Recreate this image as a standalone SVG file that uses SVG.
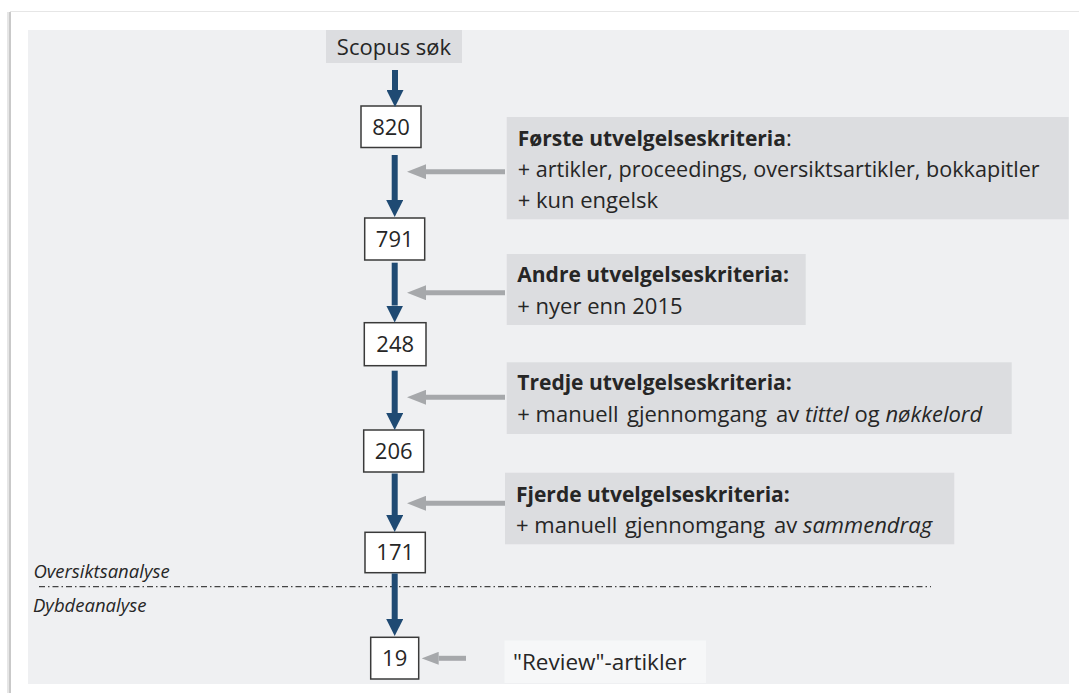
<svg xmlns="http://www.w3.org/2000/svg" width="1079" height="693" viewBox="0 0 1079 693">
  <style>
    .t { font-family: "Open Sans", "Noto Sans", sans-serif; font-size: 22px; fill: #262626; }
    .b { font-weight: 700; font-size: 21px; }
    .i { font-style: italic; }
    .lbl { font-family: "Open Sans", "Noto Sans", sans-serif; font-size: 18.5px; font-style: italic; fill: #262626; }
    .num { fill: #ffffff; stroke: #3a3a3a; stroke-width: 1.5; }
    .crit { fill: #dcdde0; }
    .blue { stroke: #1f4a73; stroke-width: 6; fill: none; marker-end: url(#bh); }
    .gray { stroke: #a6a8ab; stroke-width: 5; fill: none; marker-end: url(#gh); }
  </style>
  <defs>
    <marker id="bh" markerUnits="userSpaceOnUse" markerWidth="17" markerHeight="17" refX="0" refY="8.5" orient="auto" viewBox="0 0 17 17">
      <path d="M0,0 L17,8.5 L0,17 Z" fill="#1f4a73"/>
    </marker>
    <marker id="gh" markerUnits="userSpaceOnUse" markerWidth="19" markerHeight="15" refX="0" refY="7.5" orient="auto" viewBox="0 0 19 15">
      <path d="M0,0 L19,7.5 L0,15 Z" fill="#a6a8ab"/>
    </marker>
    <marker id="gh2" markerUnits="userSpaceOnUse" markerWidth="17" markerHeight="13" refX="0" refY="6.5" orient="auto" viewBox="0 0 17 13">
      <path d="M0,0 L17,6.5 L0,13 Z" fill="#a6a8ab"/>
    </marker>
  </defs>

  <!-- page -->
  <rect x="0" y="0" width="1079" height="693" fill="#ffffff"/>
  <rect x="7" y="12" width="2" height="681" fill="#e6e6e6"/>
  <rect x="9" y="12" width="2" height="681" fill="#c9c9c9"/>
  <line x1="10" y1="11.5" x2="1079" y2="11.5" stroke="#e6e6e6" stroke-width="1"/>
  <rect x="28" y="30" width="1041" height="654" fill="#eff0f2"/>

  <!-- phase divider -->
  <g id="divider">
    <line x1="39" y1="586.7" x2="931" y2="586.7" stroke="#444444" stroke-width="1.3" stroke-dasharray="6 3 1.5 3"/>
    <text class="lbl" x="33.5" y="578">Oversiktsanalyse</text>
    <text class="lbl" x="33" y="612">Dybdeanalyse</text>
  </g>

  <!-- nodes -->
  <g id="scopus">
    <rect x="326" y="30" width="136" height="33" fill="#dcdde0"/>
    <text class="t" x="394" y="55" text-anchor="middle">Scopus søk</text>
  </g>
  <g id="n820">
    <rect class="num" x="361" y="106" width="60" height="41.5"/>
    <text class="t" x="391" y="134.5" text-anchor="middle">820</text>
  </g>
  <g id="n791">
    <rect class="num" x="364.7" y="218" width="60" height="42"/>
    <text class="t" x="394.7" y="246.5" text-anchor="middle">791</text>
  </g>
  <g id="n248">
    <rect class="num" x="364.3" y="322.7" width="61.7" height="43"/>
    <text class="t" x="395.2" y="351.5" text-anchor="middle">248</text>
  </g>
  <g id="n206">
    <rect class="num" x="363.7" y="430" width="60" height="42"/>
    <text class="t" x="393.7" y="458.5" text-anchor="middle">206</text>
  </g>
  <g id="n171">
    <rect class="num" x="365" y="532.3" width="60.3" height="40.4"/>
    <text class="t" x="395.2" y="560" text-anchor="middle">171</text>
  </g>
  <g id="n19">
    <rect class="num" x="370.7" y="637.3" width="48" height="41.7"/>
    <text class="t" x="394.7" y="665.5" text-anchor="middle">19</text>
  </g>

  <g id="crit1">
    <rect class="crit" x="506.7" y="117" width="562" height="102.3"/>
    <text class="t" x="517.7" y="146"><tspan class="b">Første utvelgelseskriteria</tspan>:</text>
    <text class="t" x="517.7" y="177" textLength="522" lengthAdjust="spacingAndGlyphs">+ artikler, proceedings, oversiktsartikler, bokkapitler</text>
    <text class="t" x="517.7" y="208">+ kun engelsk</text>
  </g>
  <g id="crit2">
    <rect class="crit" x="506.7" y="254" width="299" height="71"/>
    <text class="t b" x="517.3" y="282.3">Andre utvelgelseskriteria:</text>
    <text class="t" x="517.3" y="313.5">+ nyer enn 2015</text>
  </g>
  <g id="crit3">
    <rect class="crit" x="506.7" y="362.3" width="505" height="71.7"/>
    <text class="t b" x="517.3" y="390">Tredje utvelgelseskriteria:</text>
    <text class="t" x="517.3" y="421.5">+ manuell <tspan x="627">gjennomgang </tspan><tspan x="776">av </tspan><tspan class="i">tittel</tspan> og <tspan class="i">nøkkelord</tspan></text>
  </g>
  <g id="crit4">
    <rect class="crit" x="505" y="472.7" width="449.3" height="71.6"/>
    <text class="t b" x="516" y="501.7">Fjerde utvelgelseskriteria:</text>
    <text class="t" x="516" y="532.7">+ manuell <tspan x="625">gjennomgang </tspan><tspan x="774">av </tspan><tspan class="i">sammendrag</tspan></text>
  </g>
  <g id="review">
    <rect x="504.5" y="640.5" width="201.5" height="42.5" fill="#f6f7f8"/>
    <text class="t" x="513" y="669.5" style="font-size:22.5px">"Review"-artikler</text>
  </g>

  <!-- connectors -->
  <g id="connectors">
    <line class="blue" x1="395" y1="70" x2="395" y2="90"/>
    <line class="blue" x1="394.7" y1="155" x2="394.7" y2="200"/>
    <line class="blue" x1="394.7" y1="262.7" x2="394.7" y2="305.5"/>
    <line class="blue" x1="394.7" y1="370.7" x2="394.7" y2="413"/>
    <line class="blue" x1="394.7" y1="473.5" x2="394.7" y2="515"/>
    <line class="blue" x1="394.7" y1="573.5" x2="394.7" y2="619"/>
    <line class="gray" x1="505" y1="171.7" x2="426" y2="171.7"/>
    <line class="gray" x1="505" y1="292.7" x2="426" y2="292.7"/>
    <line class="gray" x1="505" y1="397.3" x2="426" y2="397.3"/>
    <line class="gray" x1="505" y1="503.3" x2="426" y2="503.3"/>
    <line class="gray" x1="466" y1="658.3" x2="438.7" y2="658.3" style="marker-end: url(#gh2)"/>
  </g>
</svg>
